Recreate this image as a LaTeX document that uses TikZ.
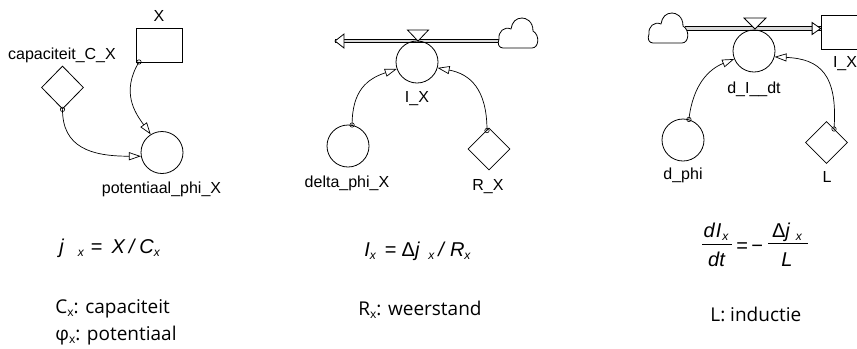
\documentclass[tikz,border=0pt]{standalone}
\usepackage{fontspec}
\setmainfont{Liberation Sans}
\newfontfamily\notefont{Open Sans}
\usetikzlibrary{arrows.meta,shapes.geometric}

\newcommand\labelsize{\fontsize{16bp}{18bp}\selectfont}
\newcommand\eqsize{\fontsize{20bp}{22bp}\selectfont}
% italic subscript x for the equations
\newcommand\subit{\raisebox{-3bp}{\fontsize{12bp}{13bp}\selectfont\itshape x}}
% upright subscript x for the notes
\newcommand\subup{\raisebox{-3.5bp}{\fontsize{12bp}{13bp}\selectfont x}}

\tikzset{
  cloudpic/.pic={
    \draw[fill=white, line width=0.8bp]
      (5,30) -- (34,30)
      .. controls (41,30) and (42,17) .. (35,13)
      .. controls (35,3) and (28,0) .. (24,0)
      .. controls (18,0) and (14,4) .. (13,11)
      .. controls (6,8) and (0,14) .. (1,21)
      .. controls (-1,26) and (1,30) .. (5,30) -- cycle;
  }
}

\begin{document}
\begin{tikzpicture}[x=1bp, y=-1bp, line width=0.8bp,
  stock/.style={draw, rectangle, minimum width=46bp, minimum height=34bp, inner sep=0pt},
  aux/.style={draw, circle, minimum size=42bp, inner sep=0pt},
  conv/.style={draw, diamond, minimum width=42bp, minimum height=42bp, inner sep=0pt},
  lbl/.style={anchor=base, inner sep=0pt, font=\labelsize},
  eqn/.style={anchor=base west, inner sep=0pt, font=\eqsize},
  note/.style={anchor=base west, inner sep=0pt, font=\notefont\fontsize{19bp}{22bp}\selectfont},
  link/.style={line width=0.7bp, -{Triangle[length=12bp, width=8bp, fill=white, line width=0.7bp]}},
  tail/.style={line width=0.6bp},
  pipeout/.style={line width=4.4bp, line cap=butt},
  pipein/.style={line width=2.4bp, draw=gray!30, line cap=butt},
  flowhead/.style={draw, fill=white, line width=0.8bp, line join=miter},
  valve/.style={draw, fill=white, line width=0.8bp}]

\useasboundingbox (0,0) rectangle (857,348);
\clip (0,0) rectangle (857,348);

% ---------- capacitor: stock X ----------
\node[stock] (x) at (159,45) {};
\node[lbl] (xlab) at (159,21) {X};
\node[conv, minimum height=43bp] (cx) at (62.5,87.5) {};
\node[lbl] (cxlab) at (62,59) {capaciteit\_C\_X};
\node[aux] (pot) at (162,152.5) {};
\node[lbl] (potlab) at (161.5,193) {potentiaal\_phi\_X};
\coordinate (xo) at (139,62);

\draw[link] (xo) .. controls +(-18,30) and +(-16,-22) .. (pot.122);
\draw[link] (cx.south) .. controls +(0,38) and +(-50,0) .. (pot.190);
\draw[tail] (xo) circle[radius=2.2];
\draw[tail] (cx.south) circle[radius=2.2];

% ---------- resistor: flow I_X ----------
\coordinate (cl2) at (499,41);
\coordinate (out2) at (335,41);
\draw[pipeout] (cl2) -- (out2);
\draw[pipein] (cl2) -- (out2);
\draw[flowhead] (out2) -- ++(9,-7) -- ++(0,14) -- cycle;
\pic at (498,18) {cloudpic};

\node[aux] (ix) at (417,62) {};
\draw[valve] (407.5,30) -- (428.5,30) -- (418,41) -- cycle;
\node[lbl] (ixlab) at (417,102) {I\_X};
\node[aux] (dphi) at (348,146) {};
\node[lbl] (dphilab) at (347,187) {delta\_phi\_X};
\node[conv] (rx) at (489,149) {};
\node[lbl] (rxlab) at (488,190) {R\_X};
\coordinate (rxo) at (487,130.5);

\draw[link] (dphi.79) .. controls +(0,-34) and +(-30,10) .. (ix.199);
\draw[link] (rxo) .. controls +(0,-42) and +(32,6) .. (ix.-16);
\draw[tail] (dphi.79) circle[radius=2.2];
\draw[tail] (rxo) circle[radius=2.2];

% ---------- inductor: stock I_X fed by d_I__dt ----------
\node[stock] (ilx) at (844,32) {};
\node[lbl] (ilxlab) at (845,67) {I\_X};
\coordinate (cl3) at (685,28.5);
\draw[pipeout] (cl3) -- (cl3 -| ilx.west);
\draw[pipein] (cl3) -- (cl3 -| ilx.west);
\draw[flowhead] (cl3 -| ilx.west) -- ++(-8.5,-6) -- ++(0,12) -- cycle;
\pic at (648,13) {cloudpic};

\node[aux] (di) at (754,51) {};
\draw[valve] (744,18) -- (766,18) -- (755,29) -- cycle;
\node[lbl] (dilab) at (754,93) {d\_I\_\_dt};
\node[aux] (dp) at (683,140) {};
\node[lbl] (dplab) at (683,179) {d\_phi};
\node[conv] (l) at (826.5,142.5) {};
\node[lbl] (llab) at (827,182) {L};
\coordinate (lo) at (834,129);

\draw[link] (dp.74) .. controls +(4,-35) and +(-25,10) .. (di.202);
\draw[link] (lo) .. controls +(4,-55) and +(45,2) .. (di.-16);
\draw[tail] (dp.74) circle[radius=2.2];
\draw[tail] (lo) circle[radius=2.2];

% ---------- equations ----------
\node[eqn] (eq1) at (59,253)
  {\itshape j\hspace{14bp}\subit\hspace{7bp}\upshape=\hspace{9bp}\itshape X\hspace{4bp}/\hspace{5bp}C\subit};
\node[eqn] (eq2) at (364,256)
  {\itshape I\subit\hspace{9bp}\upshape=\hspace{5bp}Δ\itshape j\hspace{9bp}\subit\hspace{4bp}/\hspace{6bp}R\subit};

\node[eqn, anchor=base] (num1) at (716,237) {\itshape d\hspace{1bp}I\hspace{1bp}\subit};
\node[eqn, anchor=base] (den1) at (716.5,266) {\itshape dt};
\draw (702,244) -- (732,244);
\node[eqn] (eqsign) at (736,252) {=};
\node[eqn] (minus) at (751,252) {−};
\node[eqn, anchor=base] (num2) at (787,237) {Δ\itshape j\hspace{6bp}\subit};
\node[eqn, anchor=base] (den2) at (787,266) {\itshape L};
\draw (768,243) -- (808,243);

% ---------- notes ----------
\node[note] (notec) at (55,313) {C\subup: capaciteit};
\node[note] (notephi) at (55,340) {φ\subup: potentiaal};
\node[note] (noter) at (358,315) {R\subup: weerstand};
\node[note] (notel) at (710,321) {L: inductie};
\end{tikzpicture}
\end{document}
